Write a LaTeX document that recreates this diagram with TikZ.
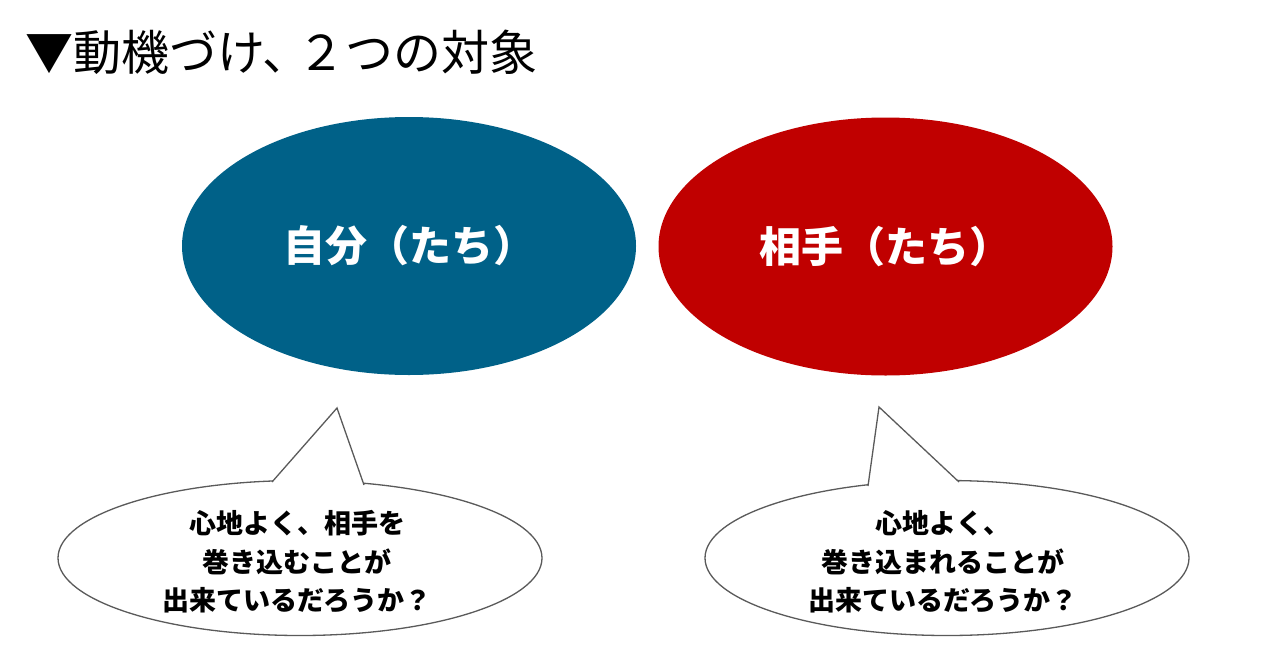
\documentclass[tikz,border=0pt]{standalone}
\usepackage{fontspec}
\newfontfamily\jp{Noto Sans CJK JP}
\usetikzlibrary{shapes.geometric,calc}
\definecolor{selfblue}{RGB}{0,97,136}
\definecolor{otherred}{RGB}{192,0,0}
\definecolor{outlinegray}{RGB}{90,90,90}
\tikzset{
  titletext/.style={anchor=base west, inner sep=0pt, font=\jp\fontsize{48}{54}\selectfont},
  bigell/.style={ellipse, minimum width=454pt, minimum height=258pt, inner sep=0pt, text=white, font=\jp\bfseries\fontsize{42}{50}\selectfont},
  callout/.style={ellipse, draw=outlinegray, line width=1.3pt, fill=white, minimum width=484pt, minimum height=155pt, inner sep=0pt},
  calltext/.style={align=center, inner sep=0pt, font=\jp\bfseries\fontsize{27}{38.5}\selectfont},
  pointerline/.style={draw=outlinegray, line width=1.3pt, line join=miter},
}
\begin{document}
\begin{tikzpicture}[x=1pt,y=-1pt]
\useasboundingbox (0,0) rectangle (1280,670);
\fill[white] (0,0) rectangle (1280,670);

\node[titletext] (title) at (25,70) {▼動機づけ、\kern-13pt２つの対象};

\node[bigell, fill=selfblue] (self) at (409,246) {自分（たち）};
\node[bigell, fill=otherred] (other) at (885.5,246.5) {相手（たち）};

% left callout
\node[callout] (c1) at (300,558) {};
\coordinate (c1tip) at (337,408);
\coordinate (c1l) at (272,482);
\coordinate (c1r) at (364,485);
\fill[white] (c1l) -- (c1tip) -- (c1r) -- ($(c1r)+(0,3)$) -- ($(c1l)+(0,3)$) -- cycle;
\draw[pointerline] (c1l) -- (c1tip) -- (c1r);
\node[calltext] (t1) at (297,562) {心地よく、相手を\\巻き込むことが\\出来ているだろうか？};

% right callout
\node[callout] (c2) at (947,558) {};
\coordinate (c2tip) at (879,407);
\coordinate (c2l) at (868,486);
\coordinate (c2r) at (959,482);
\fill[white] (c2l) -- (c2tip) -- (c2r) -- ($(c2r)+(0,3)$) -- ($(c2l)+(0,3)$) -- cycle;
\draw[pointerline] (c2l) -- (c2tip) -- (c2r);
\node[calltext] (t2) at (943,562) {心地よく、\\巻き込まれることが\\出来ているだろうか？};
\end{tikzpicture}
\end{document}
